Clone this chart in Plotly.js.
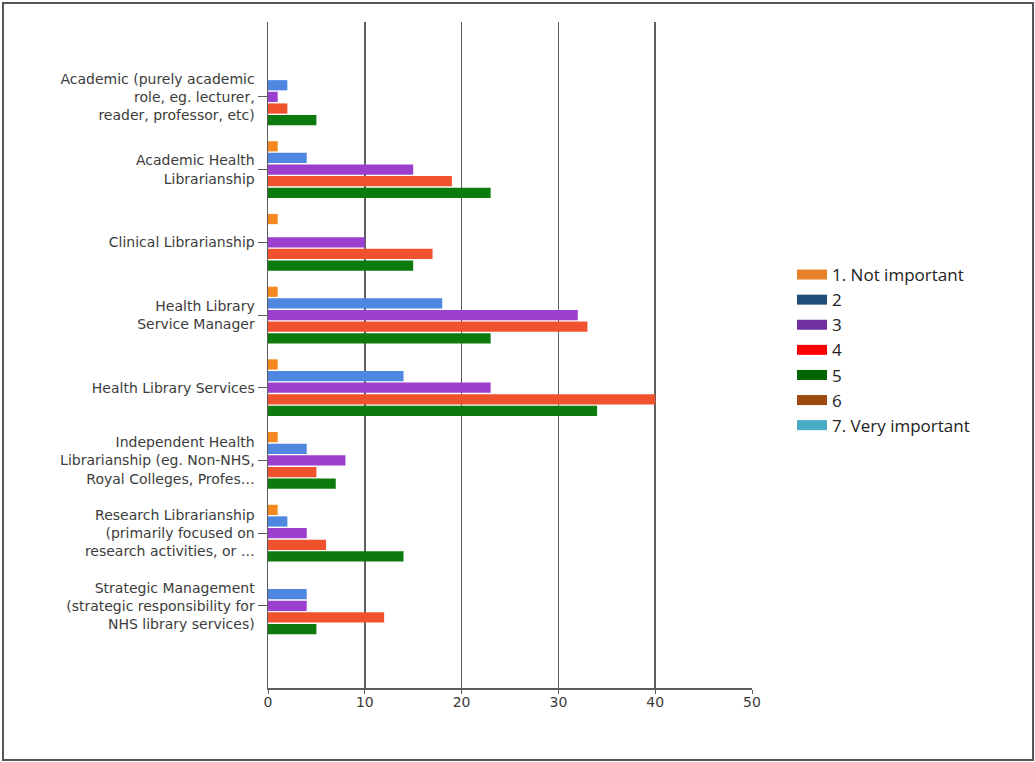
<!DOCTYPE html>
<html>
<head>
<meta charset="utf-8">
<script src="https://cdn.plot.ly/plotly-3.0.1.min.js"></script>
<style>
  html, body { margin: 0; padding: 0; background: #fff; }
  #chart { width: 1035px; height: 762px; }
</style>
</head>
<body>
<div id="chart"></div>
<script>
const categories = [
  "Academic (purely academic<br>role, eg. lecturer,<br>reader, professor, etc)",
  "Academic Health<br>Librarianship",
  "Clinical Librarianship",
  "Health Library<br>Service Manager",
  "Health Library Services",
  "Independent Health<br>Librarianship (eg. Non-NHS,<br>Royal Colleges, Profes…",
  "Research Librarianship<br>(primarily focused on<br>research activities, or …",
  "Strategic Management<br>(strategic responsibility for<br>NHS library services)"
];

const seriesNames = ["1. Not important", "2", "3", "4", "5", "6", "7. Very important"];

const s1 = [0, 1, 1, 1, 1, 1, 1, 0];
const s2 = [2, 4, 0, 18, 14, 4, 2, 4];
const s3 = [1, 15, 10, 32, 23, 8, 4, 4];
const s4 = [2, 19, 17, 33, 40, 5, 6, 12];
const s5 = [5, 23, 15, 23, 34, 7, 14, 5];

const barSeries = [s1, s2, s3, s4, s5];
const barColors = ["#f5891f", "#4f86e0", "#9b3fcf", "#f0522e", "#0d7a0d"];
const legendColors = ["#e8822a", "#1f4e79", "#7030a0", "#ff0000", "#006400", "#9c4a10", "#4bacc6"];

const traces = [];
barSeries.forEach((vals, i) => {
  traces.push({
    type: "bar",
    orientation: "h",
    name: seriesNames[i],
    y: categories,
    x: vals,
    marker: { color: barColors[i], line: { width: 0 } },
    showlegend: false,
    hoverinfo: "x+name"
  });
});
seriesNames.forEach((nm, i) => {
  traces.push({
    type: "scatter",
    mode: "lines",
    name: nm,
    x: [null],
    y: [null],
    line: { color: legendColors[i], width: 12 },
    showlegend: true,
    hoverinfo: "skip"
  });
});

const L = 268, R = 1035 - 752, T = 22, B = 762 - 688;
const pw = 1035 - L - R, ph = 762 - T - B;

const layout = {
  width: 1035,
  height: 762,
  margin: { l: L, r: R, t: T, b: B, pad: 0 },
  paper_bgcolor: "#ffffff",
  plot_bgcolor: "#ffffff",
  barmode: "group",
  bargap: 0.2,
  bargroupgap: 0.12,
  font: { family: "DejaVu Sans, sans-serif", color: "#3c3c3c", size: 14 },
  xaxis: {
    range: [0, 50],
    tickvals: [0, 10, 20, 30, 40, 50],
    showgrid: true,
    gridcolor: "#5e5e5e",
    gridwidth: 1.6,
    zeroline: false,
    showline: true,
    linecolor: "#5e5e5e",
    linewidth: 1.5,
    ticks: "outside",
    ticklen: 4,
    tickcolor: "#5e5e5e",
    ticklabelstandoff: -3,
    tickfont: { family: "DejaVu Sans, sans-serif", size: 14, color: "#3c3c3c" },
    fixedrange: true
  },
  yaxis: {
    type: "category",
    range: [8.13, -1.03],
    autorange: false,
    showgrid: false,
    zeroline: false,
    showline: true,
    linecolor: "#5e5e5e",
    linewidth: 1.5,
    ticks: "outside",
    ticklen: 9,
    tickcolor: "#5e5e5e",
    tickfont: { family: "DejaVu Sans, sans-serif", size: 14, color: "#3c3c3c" },
    fixedrange: true
  },
  legend: {
    x: (792 - L) / pw,
    y: (688 - 257) / ph,
    xanchor: "left",
    yanchor: "top",
    font: { family: "Open Sans, sans-serif", size: 17, color: "#222" },
    bgcolor: "rgba(0,0,0,0)",
    itemwidth: 30,
    tracegroupgap: 0
  },
  shapes: [{
    type: "rect",
    xref: "paper", yref: "paper",
    x0: (3 - L) / pw, x1: (1033 - L) / pw,
    y0: (688 - 760) / ph, y1: (688 - 3) / ph,
    line: { color: "#555", width: 2 },
    fillcolor: "rgba(0,0,0,0)"
  }],
  showlegend: true
};

Plotly.newPlot("chart", traces, layout, { displayModeBar: false, staticPlot: true });
</script>
</body>
</html>
